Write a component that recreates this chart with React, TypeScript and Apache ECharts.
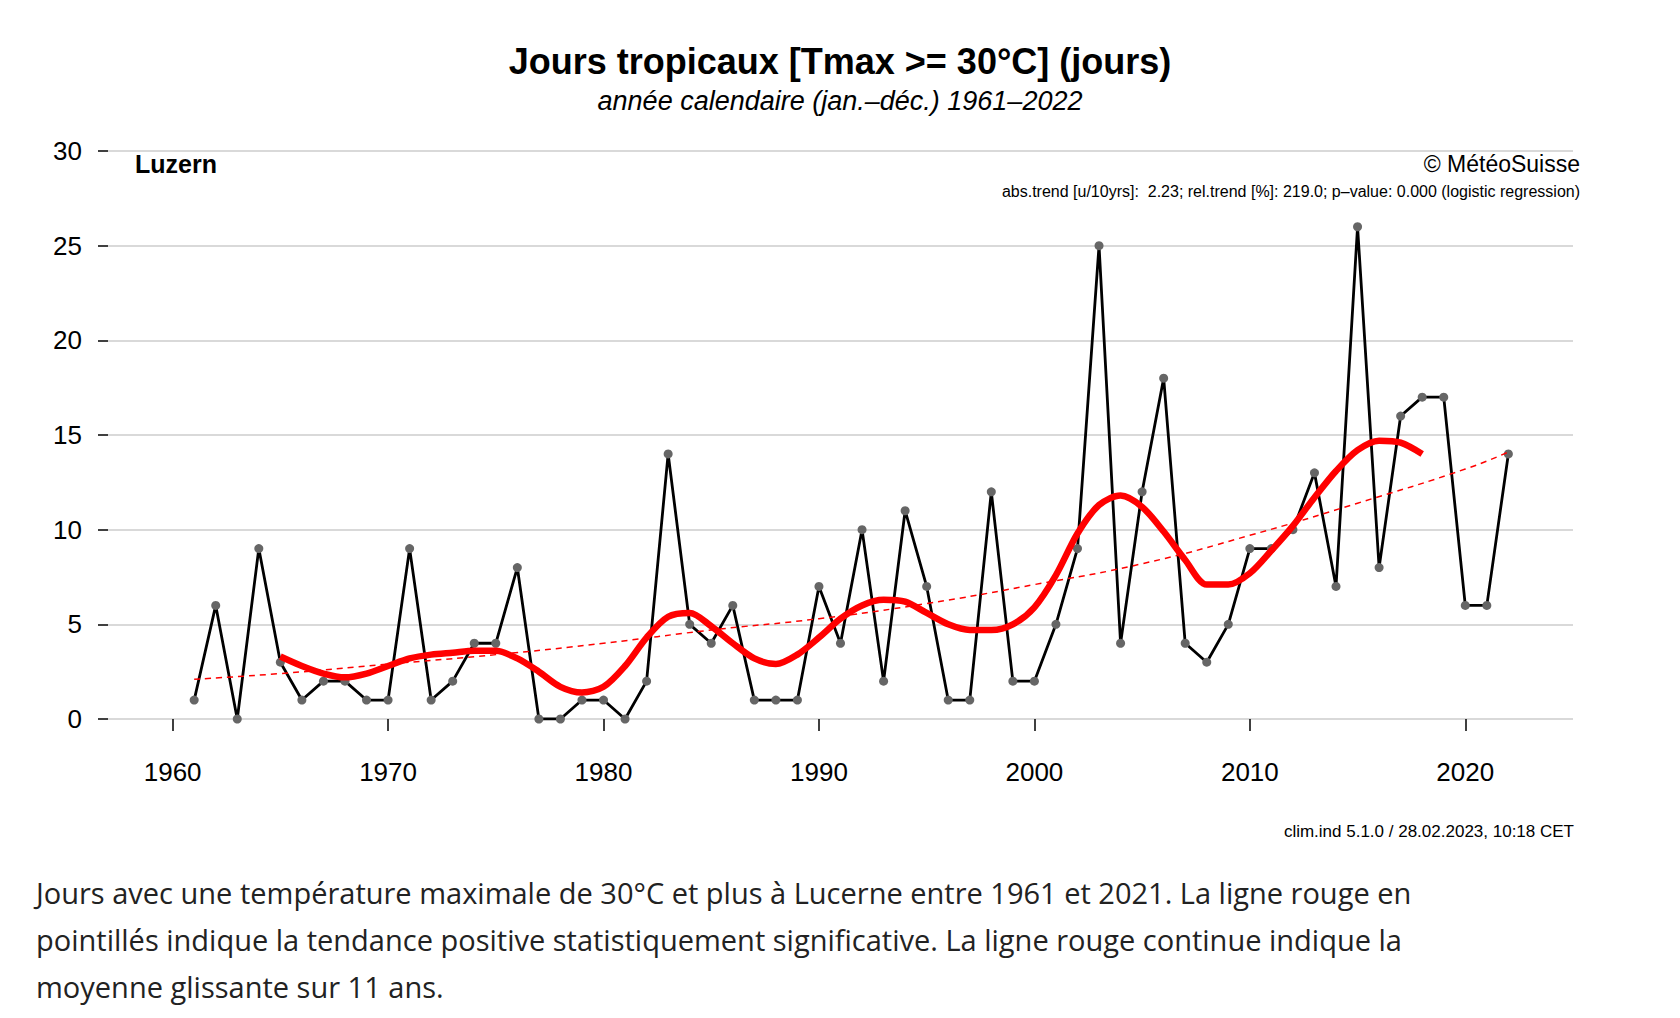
import React, { useEffect, useRef } from "react";
import * as echarts from "echarts";

const years = [
  1961, 1962, 1963, 1964, 1965, 1966, 1967, 1968, 1969, 1970, 1971, 1972, 1973, 1974, 1975, 1976,
  1977, 1978, 1979, 1980, 1981, 1982, 1983, 1984, 1985, 1986, 1987, 1988, 1989, 1990, 1991, 1992,
  1993, 1994, 1995, 1996, 1997, 1998, 1999, 2000, 2001, 2002, 2003, 2004, 2005, 2006, 2007, 2008,
  2009, 2010, 2011, 2012, 2013, 2014, 2015, 2016, 2017, 2018, 2019, 2020, 2021, 2022,
];
const tropicalDays = [
  1, 6, 0, 9, 3, 1, 2, 2, 1, 1, 9, 1, 2, 4, 4, 8,
  0, 0, 1, 1, 0, 2, 14, 5, 4, 6, 1, 1, 1, 7, 4, 10,
  2, 11, 7, 1, 1, 12, 2, 2, 5, 9, 25, 4, 12, 18, 4, 3,
  5, 9, 9, 10, 13, 7, 26, 8, 16, 17, 17, 6, 6, 14,
];
// 11-year running mean, 1965-2018
const meanStart = 1965;
const runningMean = [
  3.3, 2.8, 2.4, 2.2, 2.4, 2.8, 3.2, 3.4, 3.5, 3.6, 3.6, 3.2, 2.5, 1.7, 1.4, 1.7,
  2.8, 4.3, 5.4, 5.6, 4.9, 4.0, 3.2, 2.9, 3.4, 4.3, 5.3, 6.0, 6.3, 6.2, 5.6, 5.0,
  4.7, 4.7, 5.0, 5.9, 7.6, 9.8, 11.3, 11.8, 11.2, 9.9, 8.4, 7.1, 7.1, 7.7, 8.9, 10.2,
  11.7, 13.1, 14.2, 14.7, 14.6, 14.0,
];
const trendYears = [1961, 1965, 1970, 1975, 1980, 1985, 1990, 1995, 2000, 2005, 2010, 2015, 2020, 2022];
const trendValues = [2.1, 2.4, 2.9, 3.4, 4.0, 4.7, 5.3, 6.1, 7.1, 8.2, 9.7, 11.4, 13.2, 14.1];
const xTicks = [1960, 1970, 1980, 1990, 2000, 2010, 2020];

const captionLines = [
  "Jours avec une température maximale de 30°C et plus à Lucerne entre 1961 et 2021. La ligne rouge en",
  "pointillés indique la tendance positive statistiquement significative. La ligne rouge continue indique la",
  "moyenne glissante sur 11 ans.",
];

const font = "Liberation Sans, Arial, sans-serif";

export default function App() {
  const ref = useRef<HTMLDivElement>(null);

  useEffect(() => {
    const chart = echarts.init(ref.current, null, { renderer: "svg" });
    chart.setOption({
      animation: false,
      backgroundColor: "#fff",
      textStyle: { fontFamily: font },
      title: {
        text: "Jours tropicaux [Tmax >= 30°C] (jours)",
        subtext: "année calendaire (jan.–déc.) 1961–2022",
        left: "center",
        top: 38,
        itemGap: 8,
        textStyle: { fontSize: 36, fontWeight: "bold", color: "#000", fontFamily: font },
        subtextStyle: { fontSize: 27, fontStyle: "italic", color: "#000", fontFamily: font },
      },
      grid: { left: 108, right: 107, top: 151, bottom: 1018 - 719 },
      xAxis: {
        type: "value",
        min: 1957,
        max: 2025,
        offset: 22,
        splitLine: { show: false },
        axisLine: { show: false },
        axisTick: { show: true, length: 12, lineStyle: { color: "#000", width: 1.5 }, customValues: xTicks },
        axisLabel: { fontSize: 26, color: "#000", margin: 18, customValues: xTicks, formatter: (v: number) => String(v) },
      },
      yAxis: {
        type: "value",
        min: 0,
        max: 30,
        interval: 5,
        axisLine: { show: false },
        axisTick: { show: true, length: 10, lineStyle: { color: "#000", width: 1.5 } },
        axisLabel: { fontSize: 26, color: "#000", margin: 26 },
        splitLine: { lineStyle: { color: "#ccc", width: 1.5 } },
      },
      graphic: [
        { type: "text", left: 135, top: 151, style: { text: "Luzern", font: `bold 25px ${font}`, fill: "#000" } },
        { type: "text", right: 100, top: 152, style: { text: "© MétéoSuisse", font: `23px ${font}`, fill: "#000" } },
        {
          type: "text", right: 100, top: 183,
          style: { text: "abs.trend [u/10yrs]:  2.23; rel.trend [%]: 219.0; p–value: 0.000 (logistic regression)", font: `16px ${font}`, fill: "#000" },
        },
        { type: "text", right: 106, top: 823, style: { text: "clim.ind 5.1.0 / 28.02.2023, 10:18 CET", font: `17px ${font}`, fill: "#000" } },
        ...captionLines.map((t, i) => ({
          type: "text", left: 36, top: 878 + i * 47,
          style: { text: t, font: `29px "Open Sans", sans-serif`, fill: "#222" },
        })),
      ],
      series: [
        {
          type: "line",
          data: years.map((y, i) => [y, tropicalDays[i]]),
          lineStyle: { color: "#000", width: 2.8 },
          symbol: "circle",
          symbolSize: 9,
          itemStyle: { color: "#666" },
          z: 2,
        },
        {
          type: "line",
          data: trendYears.map((y, i) => [y, trendValues[i]]),
          smooth: true,
          symbol: "none",
          lineStyle: { color: "#f00", width: 1.5, type: [6, 5] },
          z: 3,
        },
        {
          type: "line",
          data: runningMean.map((v, i) => [meanStart + i, v]),
          smooth: 0.3,
          symbol: "none",
          lineStyle: { color: "#f00", width: 6.5 },
          z: 4,
        },
      ],
    });
    return () => chart.dispose();
  }, []);

  return <div ref={ref} style={{ position: "fixed", left: 0, top: 0, width: 1680, height: 1018 }} />;
}
